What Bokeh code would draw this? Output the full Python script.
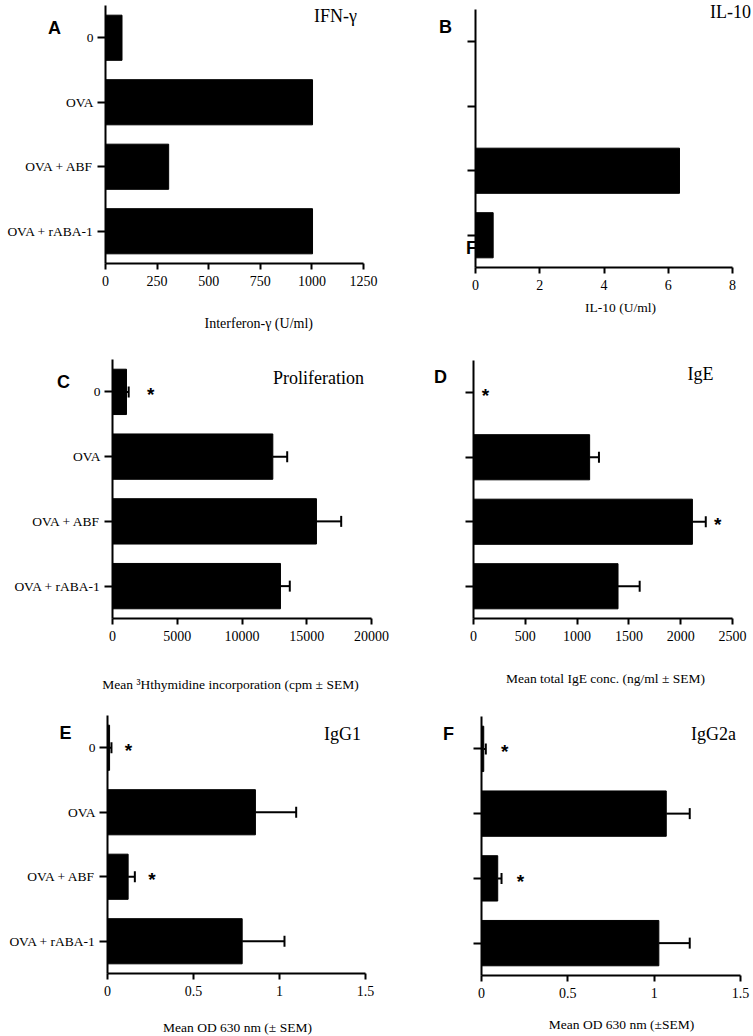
from bokeh.plotting import figure
from bokeh.layouts import row, column
from bokeh.models import Label, Whisker, TeeHead, FixedTicker, ColumnDataSource, Range1d
from bokeh.core.properties import value
from bokeh.embed import file_html
from bokeh.resources import INLINE

# ---------------- data ----------------
categories = ["0", "OVA", "OVA + ABF", "OVA + rABA-1"]

ifn_gamma = [80, 1003, 306, 1003]
il10 = [0.0, 0.0, 6.35, 0.55]
prolif_mean = [1080, 12380, 15750, 12970]
prolif_sem = [170, 1110, 1910, 720]
ige_mean = [0, 1121, 2113, 1395]
ige_sem = [0, 90, 129, 209]
igg1_mean = [0.012, 0.86, 0.12, 0.783]
igg1_sem = [0.011, 0.237, 0.039, 0.246]
igg2a_mean = [0.013, 1.07, 0.094, 1.027]
igg2a_sem = [0.012, 0.136, 0.022, 0.179]

prolif_sig = [True, False, False, False]
ige_sig = [True, False, True, False]
igg1_sig = [True, False, True, False]
igg2a_sig = [True, False, True, False]

ifn_ticks = [0, 250, 500, 750, 1000, 1250]
il10_ticks = [0, 2, 4, 6, 8]
prolif_ticks = [0, 5000, 10000, 15000, 20000]
ige_ticks = [0, 500, 1000, 1500, 2000, 2500]
od_ticks = [0, 0.5, 1, 1.5]
od_tick_labels = ["0", "0.5", "1", "1.5"]

SERIF = "Liberation Serif"
SANS = "Liberation Sans"
N = len(categories)
ypos = [N - 0.5 - i for i in range(N)]


class Panel:
    def __init__(self, box, frame, xmax, xticks, xtick_labels, show_cats, cat_size):
        # box: figure (left, top, right, bottom) in page px; frame: (left, top, width, height) of the data area
        bx0, by0, bx1, by1 = box
        self.fl, self.ft, self.fw, self.fh = frame
        self.xmax = xmax
        x0, _ = self.to_data(bx0, 0)
        x1, _ = self.to_data(bx1, 0)
        _, ytop = self.to_data(0, by0)
        _, ybot = self.to_data(0, by1)
        p = figure(width=bx1 - bx0, height=by1 - by0, x_range=Range1d(x0, x1), y_range=Range1d(ybot, ytop),
                   output_backend="svg", toolbar_location=None, min_border=0)
        p.title.visible = False
        p.outline_line_color = None
        p.xgrid.visible = False
        p.ygrid.visible = False
        p.background_fill_color = "white"
        p.border_fill_color = "white"
        for ax in (p.xaxis[0], p.yaxis[0]):
            ax.fixed_location = 0
            ax.axis_line_width = 2
            ax.axis_line_color = "black"
            ax.major_tick_line_width = 2
            ax.major_tick_line_color = "black"
            ax.minor_tick_line_color = None
            ax.major_tick_in = 0
            ax.major_label_text_font = SERIF
            ax.major_label_text_color = "black"
        xa = p.xaxis[0]
        xa.bounds = (0, xmax)
        xa.ticker = FixedTicker(ticks=xticks)
        xa.major_label_overrides = {t: l for t, l in zip(xticks, xtick_labels)}
        xa.major_tick_out = 6
        xa.major_label_standoff = 6
        xa.major_label_text_font_size = "14px"
        ya = p.yaxis[0]
        ya.bounds = (0, N)
        ya.ticker = FixedTicker(ticks=ypos)
        ya.major_label_overrides = {y: (c if show_cats else "") for y, c in zip(ypos, categories)}
        ya.major_tick_out = 8
        ya.major_label_standoff = 4
        ya.major_label_text_font_size = cat_size
        self.p = p

    def to_data(self, px, py):
        return (px - self.fl) / self.fw * self.xmax, N - (py - self.ft) / self.fh * N

    def label(self, px, py, text, size, font=SERIF, bold=False, level="annotation"):
        x, y = self.to_data(px, py)
        self.p.add_layout(Label(x=x, y=y, text=text, text_font=font, text_font_size=size,
                                text_font_style="bold" if bold else "normal", text_color="black",
                                text_align="center", text_baseline="middle", level=level))

    def bars(self, vals):
        src = ColumnDataSource(dict(y=ypos, v=vals))
        self.p.hbar(y="y", left=0, right="v", height=0.7, source=src,
                    fill_color="black", line_color="black")

    def errors(self, vals, sems):
        keep = [i for i in range(N) if vals[i] > 0]
        src = ColumnDataSource(dict(y=[ypos[i] for i in keep], lo=[vals[i] for i in keep],
                                    hi=[vals[i] + sems[i] for i in keep]))
        self.p.add_layout(Whisker(source=src, base="y", lower="lo", upper="hi", dimension="width",
                                  lower_head=None,
                                  upper_head=TeeHead(size=11, line_width=2, line_color="black"),
                                  line_width=2, line_color="black"))

    def stars(self, vals, sems, sig, offset):
        xs = [vals[i] + sems[i] for i in range(N) if sig[i]]
        ys = [ypos[i] for i in range(N) if sig[i]]
        self.p.text(x=xs, y=ys, text=["*"] * len(xs), x_offset=offset, y_offset=3,
                    text_font=value(SANS), text_font_style="bold", text_font_size="19px",
                    text_align="center", text_baseline="alphabetic", text_color="black")


# ---- A ----
A = Panel((0, 0, 390, 335), (105, 5, 258, 258), 1250, ifn_ticks, [str(t) for t in ifn_ticks], True, "13.5px")
A.bars(ifn_gamma)
A.label(54, 27, "A", "18px", SANS, True)
A.label(335, 15, "IFN-γ", "18px")
A.label(260, 323, "Interferon-γ  (U/ml)", "14px")

# ---- B ----
B = Panel((390, 0, 752, 335), (475, 9, 257, 258), 8, il10_ticks, [str(t) for t in il10_ticks], False, "13px")
B.label(471, 247, "F", "18px", SANS, True, level="underlay")
B.bars(il10)
B.label(445, 26, "B", "18px", SANS, True)
B.label(730, 11, "IL-10", "18px")
B.label(620, 307, "IL-10 (U/ml)", "13.5px")

# ---- C ----
C = Panel((0, 335, 390, 697), (112, 359, 259, 259), 20000, prolif_ticks, [str(t) for t in prolif_ticks], True, "13.5px")
C.bars(prolif_mean)
C.errors(prolif_mean, prolif_sem)
C.stars(prolif_mean, prolif_sem, prolif_sig, 22)
C.label(63, 381, "C", "18px", SANS, True)
C.label(318, 377, "Proliferation", "18px")
C.label(230, 684, "Mean ³Hthymidine incorporation (cpm ± SEM)", "13.5px")

# ---- D ----
D = Panel((390, 335, 752, 697), (473, 360, 259, 258), 2500, ige_ticks, [str(t) for t in ige_ticks], False, "13px")
D.bars(ige_mean)
D.errors(ige_mean, ige_sem)
D.stars(ige_mean, ige_sem, ige_sig, 12)
D.label(440, 376, "D", "18px", SANS, True)
D.label(700, 373, "IgE", "18px")
D.label(605, 678, "Mean total IgE conc. (ng/ml ± SEM)", "13.5px")

# ---- E ----
E = Panel((0, 697, 390, 1035), (107, 715, 258, 258), 1.5, od_ticks, od_tick_labels, True, "13.5px")
E.bars(igg1_mean)
E.errors(igg1_mean, igg1_sem)
E.stars(igg1_mean, igg1_sem, igg1_sig, 17)
E.label(65, 732, "E", "18px", SANS, True)
E.label(342, 733, "IgG1", "18px")
E.label(237, 1027, "Mean OD 630 nm (± SEM)", "13.5px")

# ---- F ----
F = Panel((390, 697, 752, 1035), (481, 716, 259, 259), 1.5, od_ticks, od_tick_labels, False, "13px")
F.bars(igg2a_mean)
F.errors(igg2a_mean, igg2a_sem)
F.stars(igg2a_mean, igg2a_sem, igg2a_sig, 19)
F.label(448, 733, "F", "18px", SANS, True)
F.label(713, 733, "IgG2a", "18px")
F.label(621, 1024, "Mean OD 630 nm (±SEM)", "13.5px")

layout = column(row(A.p, B.p), row(C.p, D.p), row(E.p, F.p))
open("out.html", "w").write(file_html(layout, INLINE))
